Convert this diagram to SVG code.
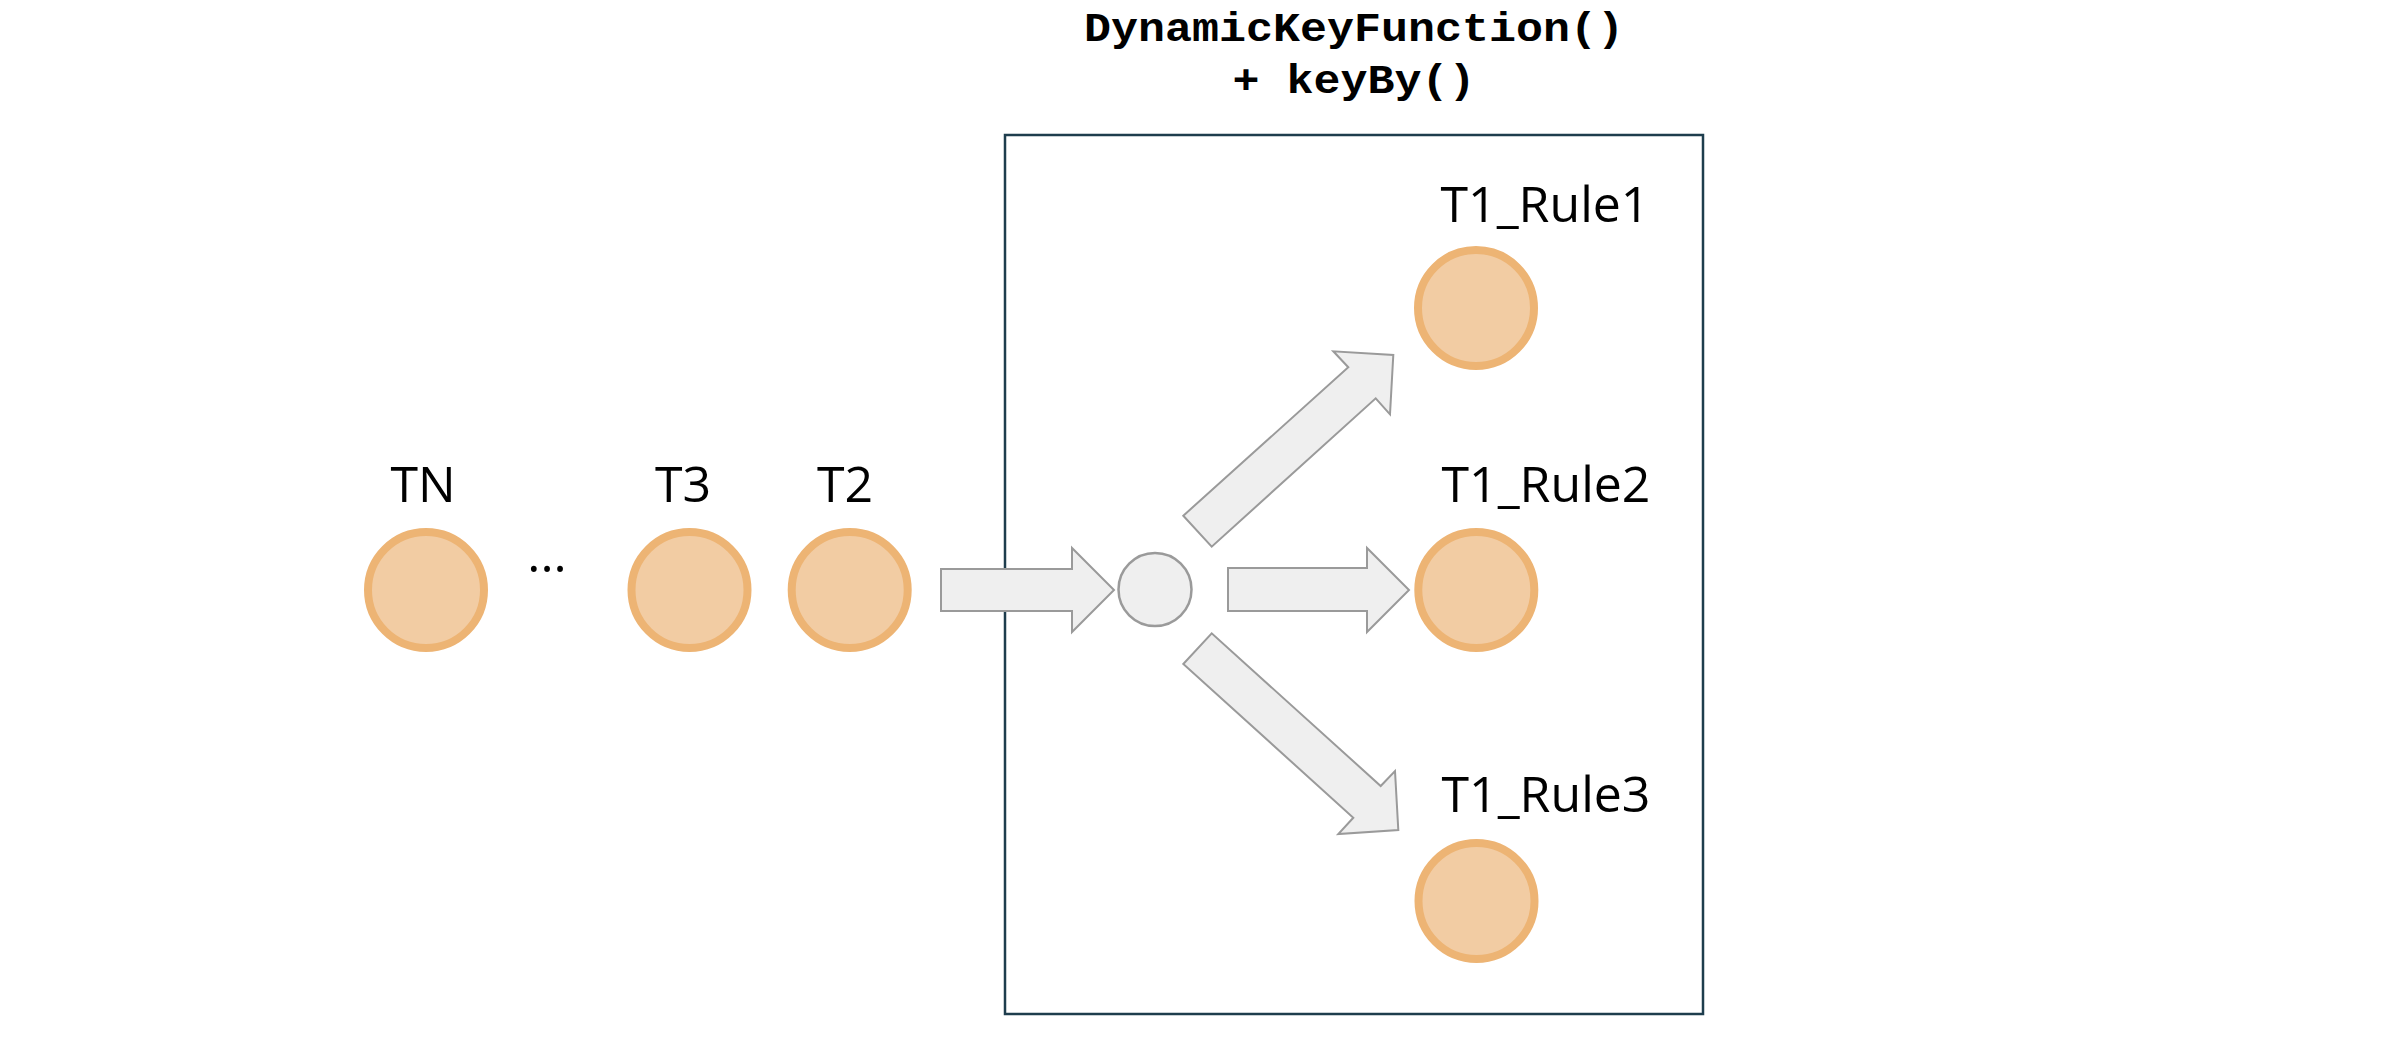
<svg xmlns="http://www.w3.org/2000/svg" width="2406" height="1046" viewBox="0 0 2406 1046">
<style>
.node{fill:#f2cca3;stroke:#edb474;stroke-width:8}
.lbl{font-family:"Open Sans","Noto Sans",sans-serif;font-size:50px;fill:#000}
.title{font-family:"Liberation Mono","Courier New",monospace;font-size:45px;font-weight:bold;fill:#000;text-anchor:middle}
.arrow{fill:#efefef;stroke:#9a9a9a;stroke-width:2;stroke-linejoin:miter}
</style>
<rect width="2406" height="1046" fill="#fff"/>
<g id="title">
<text class="title" transform="translate(1354,41) scale(1,0.9)" x="0" y="0">DynamicKeyFunction()</text>
<text class="title" transform="translate(1354,93) scale(1,0.9)" x="0" y="0">+ keyBy()</text>
</g>
<g id="box">
<rect x="1005" y="135" width="698" height="879" fill="none" stroke="#1e3d4d" stroke-width="2.5"/>
</g>
<g id="connectors">
<polygon class="arrow" points="941,569 1072,569 1072,548 1114,590 1072,632 1072,611 941,611"/>
<polygon class="arrow" points="1228,568 1367,568 1367,548 1409,590 1367,632 1367,611 1228,611"/>
<polygon class="arrow" points="1183.3,515.7 1348.3,367.3 1333.3,351.3 1393.3,355 1390,414.3 1375.7,398.3 1211.7,546.7"/>
<polygon class="arrow" points="1183.3,664 1211.7,633.3 1380.7,786 1395,771 1398.3,830 1338.3,834 1353.3,817.7"/>
</g>
<g id="node-TN">
<circle class="node" cx="426" cy="590" r="58"/>
<text class="lbl" x="423" y="502" text-anchor="middle">TN</text>
</g>
<g id="dots">
<text class="lbl" x="547" y="572" text-anchor="middle">...</text>
</g>
<g id="node-T3">
<circle class="node" cx="689.5" cy="590" r="58"/>
<text class="lbl" x="683" y="502" text-anchor="middle">T3</text>
</g>
<g id="node-T2">
<circle class="node" cx="849.7" cy="590" r="58"/>
<text class="lbl" x="845" y="502" text-anchor="middle">T2</text>
</g>
<g id="node-split">
<ellipse cx="1155" cy="589.5" rx="36.5" ry="36.5" fill="#efefef" stroke="#9a9a9a" stroke-width="2.5"/>
</g>
<g id="node-T1_Rule1">
<circle class="node" cx="1476" cy="308" r="58"/>
<text class="lbl" x="1545" y="222" text-anchor="middle">T1_Rule1</text>
</g>
<g id="node-T1_Rule2">
<circle class="node" cx="1476.3" cy="590" r="58"/>
<text class="lbl" x="1546" y="502" text-anchor="middle">T1_Rule2</text>
</g>
<g id="node-T1_Rule3">
<circle class="node" cx="1476.5" cy="901" r="58"/>
<text class="lbl" x="1546" y="812" text-anchor="middle">T1_Rule3</text>
</g>
</svg>
